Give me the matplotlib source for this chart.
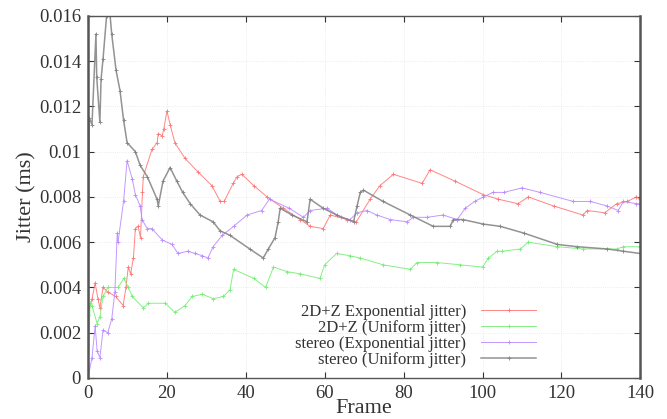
import numpy as np
import matplotlib
matplotlib.use('Agg')
import matplotlib.pyplot as plt
from matplotlib.ticker import FuncFormatter, MultipleLocator

plt.rcParams['font.family'] = 'Liberation Serif'

# 2D+Z (Exponential jitter)
exp2d_x = [0, 1, 1.8, 2.5, 3, 3.8, 5, 7, 8.9, 9.6, 10.2, 10.8, 11.5, 12, 12.7, 13.3, 13.8, 14,
           16.2, 17.5, 17.8, 18.8, 19.2, 20, 20.8, 22, 24.6, 27.9, 31.4, 33.5, 34.5, 36.8, 37.8,
           39, 42, 45.4, 49.5, 53.8, 56.3, 59.6, 61.4, 65.7, 68, 71.5, 74, 77.4, 84.7, 86.7, 93,
           100.2, 104, 109, 111.6, 118, 125.5, 126.5, 131, 134, 136.7, 139, 140]
exp2d_y = [0.0028, 0.0035, 0.0042, 0.0035, 0.0031, 0.0040, 0.0038, 0.0036, 0.0032, 0.0040,
           0.0049, 0.0046, 0.0053, 0.0066, 0.0067, 0.0062, 0.0082, 0.0089, 0.0101, 0.0104,
           0.0108, 0.0107, 0.0110, 0.0118, 0.0112, 0.0104, 0.0097, 0.0091, 0.0085, 0.0078,
           0.0078, 0.0086, 0.0089, 0.0090, 0.0085, 0.0080, 0.0075, 0.0070, 0.0067, 0.0066,
           0.0072, 0.0070, 0.0069, 0.0079, 0.0085, 0.0090, 0.0086, 0.0092, 0.0087, 0.0081,
           0.0079, 0.0077, 0.0080, 0.0076, 0.0072, 0.0074, 0.0073, 0.0077, 0.0078, 0.0080, 0.0079]

# 2D+Z (Uniform jitter)
uni2d_x = [0, 0.5, 1, 2.3, 3, 3.8, 5, 7.6, 9.1, 10.2, 11.2, 14, 15.3, 19.6, 22, 24.6, 26.4, 29,
           31.7, 34.3, 36, 36.9, 42, 45, 47, 50.4, 53.8, 58.8, 60, 63, 66.4, 69, 74.8, 81.7,
           83.4, 88.5, 94.3, 100, 101.5, 103.7, 105, 109.6, 111.6, 119, 125.5, 134, 135.7, 140]
uni2d_y = [0.0, 0.0033, 0.0032, 0.0024, 0.0027, 0.0036, 0.0040, 0.0040, 0.0044, 0.0040, 0.0036,
           0.0031, 0.0033, 0.0033, 0.0029, 0.0032, 0.0036, 0.0037, 0.0035, 0.0036, 0.0039,
           0.0048, 0.0044, 0.0040, 0.0049, 0.0047, 0.0046, 0.0044, 0.0050, 0.0055, 0.0054,
           0.0053, 0.0050, 0.0048, 0.0051, 0.0051, 0.0050, 0.0049, 0.0053, 0.0056, 0.0056,
           0.0057, 0.0060, 0.0058, 0.0057, 0.0057, 0.0058, 0.0058]

# stereo (Exponential jitter)
expst_x = [0, 1, 1.8, 2.3, 3, 3.8, 5, 6, 6.8, 7.4, 7.6, 9, 9.9, 11.2, 12, 13.2, 13.7, 15, 16.2,
           18.8, 21.3, 22.8, 25.3, 27.1, 29, 30.4, 31.7, 34, 36.9, 40.3, 44, 46, 51, 54.6, 56.3,
           60.6, 64, 66.4, 68.2, 70.7, 73.2, 76.6, 80.9, 82.5, 86, 90, 93.6, 95.6, 98, 100.2,
           102.7, 105.4, 110, 114.6, 123, 127.3, 131.6, 134.4, 135.7, 139, 140]
expst_y = [0.0, 0.0009, 0.0023, 0.0012, 0.0009, 0.0021, 0.0020, 0.0026, 0.0038, 0.0064, 0.0060,
           0.0078, 0.0096, 0.0088, 0.0081, 0.0076, 0.0070, 0.0066, 0.0066, 0.0061, 0.0059,
           0.0055, 0.0056, 0.0055, 0.0054, 0.0053, 0.0058, 0.0063, 0.0067, 0.0072, 0.0074,
           0.0079, 0.0075, 0.0071, 0.0074, 0.0075, 0.0071, 0.0070, 0.0073, 0.0074, 0.0072,
           0.0070, 0.0069, 0.0071, 0.0071, 0.0072, 0.0070, 0.0075, 0.0078, 0.0080, 0.0082,
           0.0082, 0.0084, 0.0082, 0.0078, 0.0078, 0.0076, 0.0074, 0.0078, 0.0077, 0.0077]

# stereo (Uniform jitter)
unist_x = [0, 0.3, 1, 2, 2.2, 3, 3.3, 3.8, 4.7, 5.6, 6, 7.1, 8.1, 9, 9.9, 12, 13.2, 15, 17.5,
           17.8, 19, 20.8, 22.5, 24, 25.9, 28.4, 31.7, 33.5, 36, 41, 44.4, 45.7, 47.4, 48.2,
           48.7, 51.7, 55.5, 56.3, 59.6, 63, 67.3, 68.2, 69, 69.8, 74.8, 81.7, 87.5, 91.8, 92.6,
           95, 100.2, 104.5, 110.5, 119, 124, 131.6, 135.7, 140]
unist_y = [0.0, 0.0115, 0.0112, 0.0152, 0.0133, 0.0113, 0.0132, 0.0141, 0.0160, 0.0160, 0.0152,
           0.0136, 0.0127, 0.0114, 0.0104, 0.0100, 0.0094, 0.0089, 0.0079, 0.0076, 0.0087,
           0.0093, 0.0087, 0.0082, 0.0077, 0.0072, 0.0069, 0.0065, 0.0063, 0.0057, 0.0053,
           0.0057, 0.0062, 0.0069, 0.0075, 0.0072, 0.0069, 0.0079, 0.0075, 0.0072, 0.0069,
           0.0076, 0.0082, 0.0083, 0.0078, 0.0072, 0.0067, 0.0067, 0.0070, 0.0070, 0.0068,
           0.0067, 0.0064, 0.0059, 0.0058, 0.0057, 0.0056, 0.0055]

labels = ['2D+Z Exponential jitter)', '2D+Z (Uniform jitter)',
          'stereo (Exponential jitter)', 'stereo (Uniform jitter)']
colors = ['#ff7070', '#70ee70', '#b985ff', '#808080']
widths = [0.7, 0.7, 0.7, 1.1]

fig = plt.figure(figsize=(6.67, 4.19), dpi=100)
ax = fig.add_axes([0.132, 0.098, 0.828, 0.864])

series = [(exp2d_x, exp2d_y), (uni2d_x, uni2d_y), (expst_x, expst_y), (unist_x, unist_y)]
for (xs, ys), lab, c, lw in zip(series, labels, colors, widths):
    ax.plot(xs, ys, color=c, lw=lw, marker='+', ms=2.2, mew=0.7, label=lab, alpha=0.85)

ax.set_xlim(0, 140)
ax.set_ylim(0, 0.016)
ax.xaxis.set_major_locator(MultipleLocator(20))
ax.yaxis.set_major_locator(MultipleLocator(0.002))
ax.yaxis.set_major_formatter(FuncFormatter(lambda v, p: '%g' % round(v, 4)))
ax.tick_params(direction='in', top=True, right=True, length=4, labelsize=13.5,
               colors='#333333', pad=5)
ax.grid(True, color='#e6e6e6', linestyle=':', lw=0.6)
for s in ax.spines.values():
    s.set_color('#555555')
    s.set_linewidth(1.0)
ax.spines['left'].set_linewidth(1.8)
ax.spines['right'].set_linewidth(1.8)

ax.set_xlabel('Frame', fontsize=16, color='#333333', labelpad=-2)
ax.set_ylabel('Jitter (ms)', fontsize=16, color='#333333', labelpad=2)

leg = ax.legend(loc='lower right', bbox_to_anchor=(0.83, 0.0), frameon=False,
                markerfirst=False, handlelength=3.3, fontsize=12, labelspacing=0.0,
                numpoints=1, handletextpad=0.9, borderaxespad=0.2)
for t in leg.get_texts():
    t.set_color('#333333')

fig.savefig('out.png', dpi=100)
